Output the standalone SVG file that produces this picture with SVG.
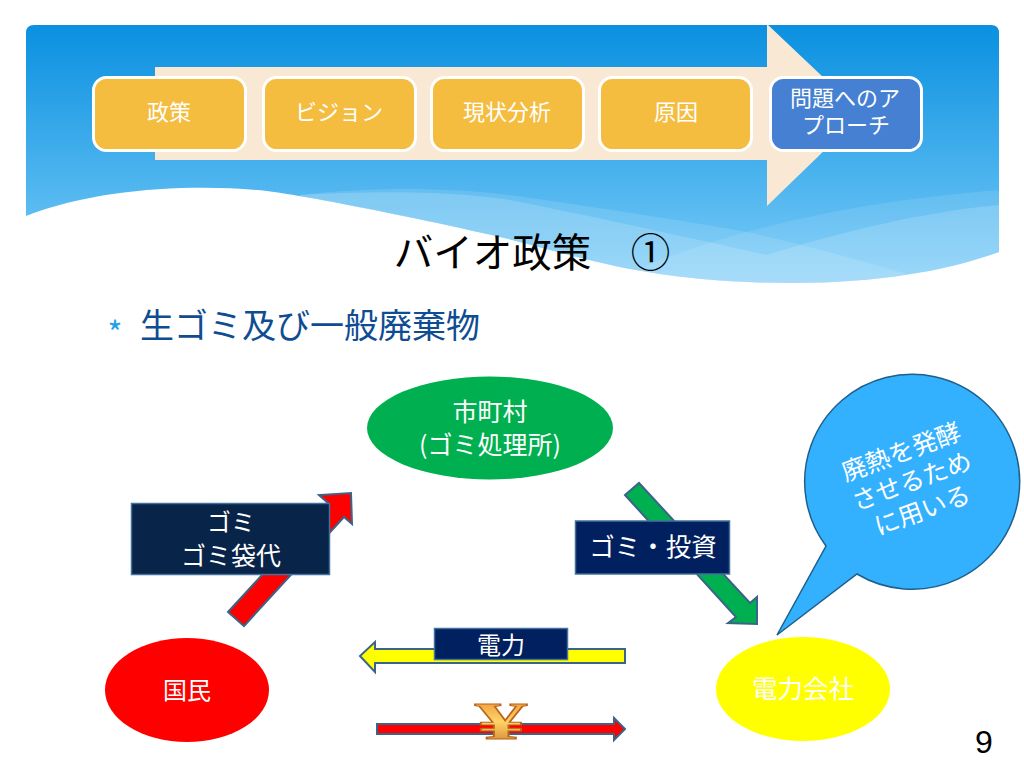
<svg xmlns="http://www.w3.org/2000/svg" width="1024" height="768" viewBox="0 0 1024 768">
<defs>
<linearGradient id="sky" x1="0" y1="25" x2="0" y2="283" gradientUnits="userSpaceOnUse"><stop offset="0" stop-color="#0a90e0"/><stop offset="1" stop-color="#7accf8"/></linearGradient>
<linearGradient id="gold" x1="0" y1="0" x2="0" y2="1"><stop offset="0" stop-color="#e8882c"/><stop offset="0.5" stop-color="#ffd468"/><stop offset="1" stop-color="#c8701c"/></linearGradient>
<clipPath id="bannerClip"><path d="M34,25H991Q999,25 999,33V252C950,270 880,283 793,283C640,283 570,253 500,237C400,214 300,195 267,191C200,184 100,187 26,216V33Q26,25 34,25Z"/></clipPath>
<style>
text{font-family:"Noto Sans CJK JP","Noto Sans",sans-serif;text-anchor:middle}
.w{fill:#fff}
.step{stroke:#fff;stroke-width:3}
.s22{font-size:22px}.s24{font-size:24px}.s25{font-size:25px}
.label{stroke:#41719c;stroke-width:1.5}
.arr{stroke:#3a6488;stroke-width:2}
.wave{fill:#fff}
</style>
</defs>
<g id="banner">
<path d="M34,25H991Q999,25 999,33V252C950,270 880,283 793,283C640,283 570,253 500,237C400,214 300,195 267,191C200,184 100,187 26,216V33Q26,25 34,25Z" fill="url(#sky)"/>
<g clip-path="url(#bannerClip)">
<path class="wave" fill-opacity="0.12" d="M300,195C380,186 450,188 510,195C600,208 680,220 747,232C800,244 860,260 910,275L793,300H300Z"/>
<path class="wave" fill-opacity="0.1" d="M640,268C680,252 710,242 747,232C820,212 900,198 999,190V300H640Z"/>
<path class="wave" fill-opacity="0.16" d="M300,195C380,190 460,192 510,200C600,218 690,238 767,255C830,235 920,212 999,205V300H300Z"/>
</g>
</g>
<path id="process-arrow" d="M155,67H767V24L862,114L767,206V160H155Z" fill="#f9e8d4"/>
<g id="step-1"><rect class="step" x="93.500" y="77.500" width="152" height="73" rx="13" fill="#f4bd40"/><text class="w s22" x="169" y="120">政策</text></g>
<g id="step-2"><rect class="step" x="263.500" y="77.500" width="152" height="73" rx="13" fill="#f4bd40"/><text class="w s22" x="339" y="120">ビジョン</text></g>
<g id="step-3"><rect class="step" x="431.500" y="77.500" width="152" height="73" rx="13" fill="#f4bd40"/><text class="w s22" x="507" y="120">現状分析</text></g>
<g id="step-4"><rect class="step" x="599.500" y="77.500" width="152" height="73" rx="13" fill="#f4bd40"/><text class="w s22" x="676" y="120">原因</text></g>
<g id="step-5"><rect class="step" x="770.500" y="77.500" width="151" height="73" rx="13" fill="#4580d3"/><text class="w s22" x="845" y="106">問題へのア</text><text class="w s22" x="846" y="133">プローチ</text></g>
<text id="title" x="532" y="267" font-size="39.500" fill="#000">バイオ政策　①</text>
<g id="bullet"><text x="115" y="345" font-size="32" fill="#1ea0ea">*</text><text x="310" y="338" font-size="34" fill="#0f4c92">生ゴミ及び一般廃棄物</text></g>
<g id="connectors">
<path class="arr" d="M228,612L328,503L319,495L351,493L352,524L344,517L244,626Z" fill="#f00"/>
<path class="arr" d="M625,495L639,483L750,603L757,597V624L728,623L736,617Z" fill="#00b050"/>
<path class="arr" d="M625,649V663H375V672L360,656L375,642V649Z" fill="#ff0"/>
<path class="arr" d="M377,724H614V718L625,729L614,740V734H377Z" fill="#f00"/>
</g>
<g id="node-city"><ellipse cx="490" cy="428" rx="123" ry="51.500" fill="#00b050"/><text class="w s25" x="490" y="421">市町村</text><text class="w s25" x="490" y="454">(ゴミ処理所)</text></g>
<g id="node-people"><ellipse cx="187" cy="690" rx="82" ry="52" fill="#f00"/><text class="w s24" x="187" y="699">国民</text></g>
<g id="node-power"><ellipse cx="803" cy="689" rx="87" ry="52" fill="#ff0"/><text class="w" font-size="25.500" x="803" y="698">電力会社</text></g>
<g id="label-garbage"><rect class="label" x="131.500" y="503.500" width="198" height="71" fill="#082448"/><text class="w s24" x="231" y="531">ゴミ</text><text class="w s25" x="231" y="565">ゴミ袋代</text></g>
<g id="label-invest"><rect class="label" x="575.500" y="521" width="154" height="53" fill="#012060"/><text class="w" font-size="25.500" x="653" y="556">ゴミ・投資</text></g>
<g id="label-power"><rect class="label" x="434.500" y="628.500" width="133" height="31" fill="#012060"/><text class="w s24" x="501" y="654">電力</text></g>
<g id="callout"><path d="M826,546A107.500,107.500 0 1 1 857,574L777,635Z" fill="#33b1ff" stroke="#1f5f8b" stroke-width="1.500"/>
<g transform="translate(912 482) rotate(-20)"><text class="w s25" x="0" y="-23">廃熱を発酵</text><text class="w s25" x="0" y="8">させるため</text><text class="w s25" x="0" y="39">に用いる</text></g></g>
<text id="yen" transform="translate(501 739) scale(2 1)" x="0" y="0" font-size="52" font-weight="700" style="font-family:'Liberation Serif',serif" fill="url(#gold)" stroke="#b8651c" stroke-width="1">¥</text>
<text id="page" x="984" y="753" font-size="32" style="font-family:'Liberation Sans',sans-serif" fill="#000">9</text>
</svg>
